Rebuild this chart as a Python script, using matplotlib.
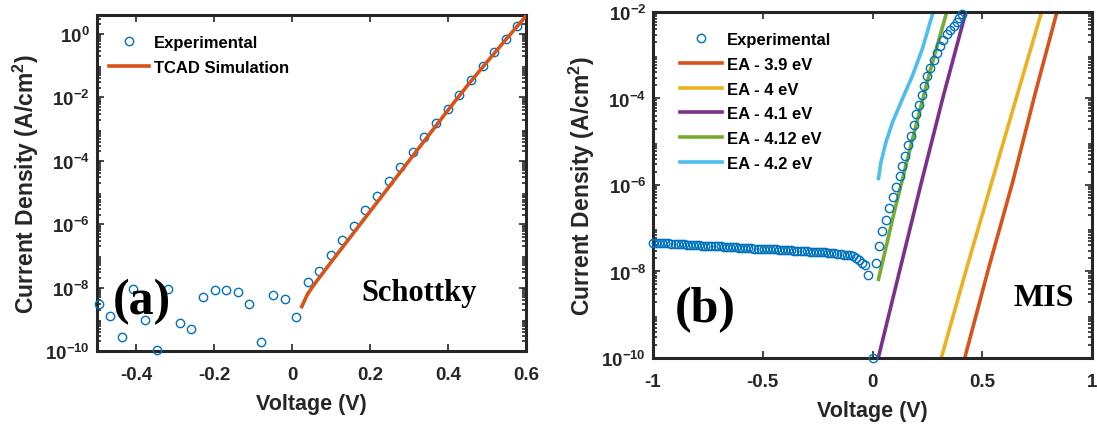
import numpy as np
import matplotlib
matplotlib.use("Agg")
import matplotlib.pyplot as plt
from matplotlib.ticker import LogLocator, NullFormatter

plt.rcParams['font.family'] = ['Liberation Sans', 'DejaVu Sans']
plt.rcParams['font.weight'] = 'bold'
plt.rcParams['axes.unicode_minus'] = False
plt.rcParams['mathtext.fontset'] = 'custom'
plt.rcParams['mathtext.rm'] = 'Liberation Sans:bold'
plt.rcParams['mathtext.bf'] = 'Liberation Sans:bold'
plt.rcParams['mathtext.it'] = 'Liberation Sans:bold'

# ---- panel (a) Schottky: experimental (log10 J) ----
va_exp = [-0.496, -0.467, -0.437, -0.408, -0.378, -0.347, -0.318, -0.287, -0.258,
          -0.228, -0.198, -0.168, -0.138, -0.109, -0.079, -0.048, -0.019, 0.011,
          0.040, 0.070, 0.099, 0.129, 0.159, 0.188, 0.218, 0.248, 0.278, 0.309,
          0.338, 0.369, 0.399, 0.428, 0.459, 0.489, 0.518, 0.549, 0.578]
la_exp = [-8.53, -8.90, -9.56, -8.03, -9.03, -9.96, -8.03, -9.11, -9.29,
          -8.31, -8.09, -8.09, -8.13, -8.52, -9.71, -8.23, -8.36, -8.92,
          -7.81, -7.47, -6.97, -6.51, -6.05, -5.56, -5.12, -4.64, -4.20, -3.73,
          -3.26, -2.81, -2.36, -1.91, -1.45, -1.00, -0.58, -0.16, 0.26]

# TCAD simulation
va_sim = [0.025, 0.04, 0.06, 0.10, 0.15, 0.20, 0.25, 0.30, 0.35, 0.40, 0.45, 0.50, 0.55, 0.60]
la_sim = [-8.60, -8.20, -7.85, -7.20, -6.40, -5.60, -4.80, -4.00, -3.20, -2.40, -1.62, -0.88, -0.15, 0.57]

# ---- panel (b) MIS: experimental (log10 J) ----
vb_exp = [-1.000, -0.986, -0.972, -0.958, -0.944, -0.930, -0.916, -0.902, -0.888, -0.874,
          -0.860, -0.846, -0.832, -0.818, -0.804, -0.790, -0.776, -0.762, -0.748, -0.734,
          -0.720, -0.706, -0.692, -0.678, -0.664, -0.650, -0.636, -0.622, -0.608, -0.594,
          -0.580, -0.566, -0.552, -0.538, -0.524, -0.510, -0.496, -0.482, -0.468, -0.454,
          -0.440, -0.426, -0.412, -0.398, -0.384, -0.370, -0.356, -0.342, -0.328, -0.314,
          -0.300, -0.286, -0.272, -0.258, -0.244, -0.230, -0.216, -0.202, -0.188, -0.174,
          -0.160, -0.146, -0.132, -0.118, -0.104, -0.090, -0.076, -0.062, -0.048, -0.034,
          -0.020, 0.000,
          0.016, 0.029, 0.045, 0.061, 0.075, 0.091, 0.107, 0.123, 0.134, 0.147,
          0.161, 0.174, 0.187, 0.200, 0.210, 0.224, 0.235, 0.248, 0.262, 0.278,
          0.294, 0.307, 0.323, 0.339, 0.355, 0.371, 0.383, 0.395, 0.407]
lb_exp = [-7.33, -7.33, -7.34, -7.34, -7.35, -7.35, -7.36, -7.36, -7.36, -7.37,
          -7.37, -7.38, -7.38, -7.38, -7.39, -7.39, -7.40, -7.40, -7.41, -7.41,
          -7.41, -7.42, -7.42, -7.43, -7.43, -7.43, -7.44, -7.44, -7.45, -7.45,
          -7.45, -7.46, -7.46, -7.47, -7.47, -7.47, -7.48, -7.48, -7.49, -7.49,
          -7.49, -7.50, -7.50, -7.51, -7.51, -7.51, -7.52, -7.52, -7.53, -7.53,
          -7.53, -7.54, -7.54, -7.55, -7.55, -7.56, -7.56, -7.57, -7.57, -7.58,
          -7.59, -7.60, -7.61, -7.62, -7.63, -7.65, -7.68, -7.73, -7.80, -7.86,
          -8.07, -10.0,
          -7.80, -7.40, -7.06, -6.80, -6.53, -6.27, -6.05, -5.80, -5.55, -5.32,
          -5.08, -4.86, -4.62, -4.37, -4.14, -3.93, -3.70, -3.49, -3.29, -3.10,
          -2.95, -2.79, -2.64, -2.52, -2.41, -2.32, -2.24, -2.15, -2.04]

# simulated curves for several electron affinities
v_39 = [0.42, 0.53, 0.64, 0.74, 0.84]
l_39 = [-10.0, -7.9, -5.9, -3.9, -2.0]
v_40 = [0.313, 0.43, 0.545, 0.66, 0.77]
l_40 = [-10.0, -7.9, -5.9, -3.9, -2.0]
v_41 = [0.026, 0.125, 0.222, 0.322, 0.425]
l_41 = [-10.0, -7.95, -5.95, -3.95, -2.0]
v_412 = [0.027, 0.10, 0.18, 0.26, 0.338]
l_412 = [-8.18, -6.60, -4.98, -3.40, -2.0]
v_42 = [0.027, 0.038, 0.061, 0.091, 0.136, 0.182, 0.227, 0.276]
l_42 = [-5.85, -5.48, -5.01, -4.55, -4.01, -3.47, -2.85, -2.0]

blue = '#0072BD'
frame = '#262626'

fig = plt.figure(figsize=(10.97, 4.27), dpi=100)
ax1 = fig.add_axes([0.0884, 0.1756, 0.3911, 0.7869])
ax2 = fig.add_axes([0.5953, 0.1593, 0.4002, 0.8103])


def style(ax, yt):
    ax.set_yscale('log')
    ax.set_yticks([10.0 ** k for k in yt])
    ax.set_yticklabels([r'$\mathbf{10^{%d}}$' % k for k in yt])
    ax.yaxis.set_minor_locator(LogLocator(base=10, subs=np.arange(2, 10), numticks=50))
    ax.yaxis.set_minor_formatter(NullFormatter())
    ax.tick_params(which='both', direction='in', top=True, right=True,
                   colors=frame, labelcolor=frame, width=1.2)
    ax.tick_params(which='major', length=5, labelsize=13.5)
    ax.tick_params(axis='x', which='major', pad=11)
    ax.tick_params(axis='y', which='major', pad=5)
    ax.tick_params(which='minor', length=3)
    for s in ax.spines.values():
        s.set_linewidth(2.2)
        s.set_color(frame)
    ax.set_xlabel('Voltage (V)', fontsize=15.5, fontweight='bold', color=frame, labelpad=7)
    ax.set_ylabel(r'Current Density (A/cm$^{\mathbf{2}}$)', fontsize=16.5,
                  fontweight='bold', color=frame, labelpad=3)
    for t in ax.get_xticklabels():
        t.set_fontweight('bold')


# ---- (a) ----
ax1.plot(va_exp, 10.0 ** np.array(la_exp), 'o', mfc='none', mec=blue, ms=6,
         mew=1.0, clip_on=False, label='Experimental', zorder=3)
ax1.plot(va_sim, 10.0 ** np.array(la_sim), '-', color='#D95319', lw=2.6,
         label='TCAD Simulation', zorder=4)
ax1.set_xlim(-0.5, 0.6)
ax1.set_ylim(1e-10, 10 ** 0.6)
ax1.set_xticks([-0.4, -0.2, 0, 0.2, 0.4, 0.6])
ax1.set_xticklabels(['-0.4', '-0.2', '0', '0.2', '0.4', '0.6'])
style(ax1, [-10, -8, -6, -4, -2, 0])
ax1.legend(loc='upper left', bbox_to_anchor=(0.0, 0.975), frameon=False,
           prop={'weight': 'bold', 'size': 12}, handlelength=2.4,
           handletextpad=0.3, labelspacing=0.6, borderaxespad=0.3)
ax1.text(0.105, 0.15, '(a)', transform=ax1.transAxes, ha='center', va='center',
         fontsize=36, fontweight='bold', family=['Liberation Serif'], color='black')
ax1.text(0.75, 0.175, 'Schottky', transform=ax1.transAxes, ha='center', va='center',
         fontsize=22, fontweight='bold', family=['Liberation Serif'], color='black')

# ---- (b) ----
ax2.plot(vb_exp, 10.0 ** np.array(lb_exp), 'o', mfc='none', mec=blue, ms=6,
         mew=1.0, clip_on=False, label='Experimental', zorder=3)
ax2.plot(v_39, 10.0 ** np.array(l_39), '-', color='#D95319', lw=2.6, label='EA - 3.9 eV')
ax2.plot(v_40, 10.0 ** np.array(l_40), '-', color='#EDB120', lw=2.6, label='EA - 4 eV')
ax2.plot(v_41, 10.0 ** np.array(l_41), '-', color='#7E2F8E', lw=2.6, label='EA - 4.1 eV')
ax2.plot(v_412, 10.0 ** np.array(l_412), '-', color='#77AC30', lw=2.6, label='EA - 4.12 eV')
ax2.plot(v_42, 10.0 ** np.array(l_42), '-', color='#4DBEEE', lw=2.6, label='EA - 4.2 eV')
ax2.set_xlim(-1, 1)
ax2.set_ylim(1e-10, 1e-2)
ax2.set_xticks([-1, -0.5, 0, 0.5, 1])
ax2.set_xticklabels(['-1', '-0.5', '0', '0.5', '1'])
style(ax2, [-10, -8, -6, -4, -2])
ax2.legend(loc='upper left', bbox_to_anchor=(0.035, 0.975), frameon=False,
           prop={'weight': 'bold', 'size': 12}, handlelength=2.5,
           handletextpad=0.3, labelspacing=0.58, borderaxespad=0.3)
ax2.text(0.12, 0.14, '(b)', transform=ax2.transAxes, ha='center', va='center',
         fontsize=36, fontweight='bold', family=['Liberation Serif'], color='black')
ax2.text(0.89, 0.175, 'MIS', transform=ax2.transAxes, ha='center', va='center',
         fontsize=23, fontweight='bold', family=['Liberation Serif'], color='black')

fig.savefig('out.png', dpi=100)
